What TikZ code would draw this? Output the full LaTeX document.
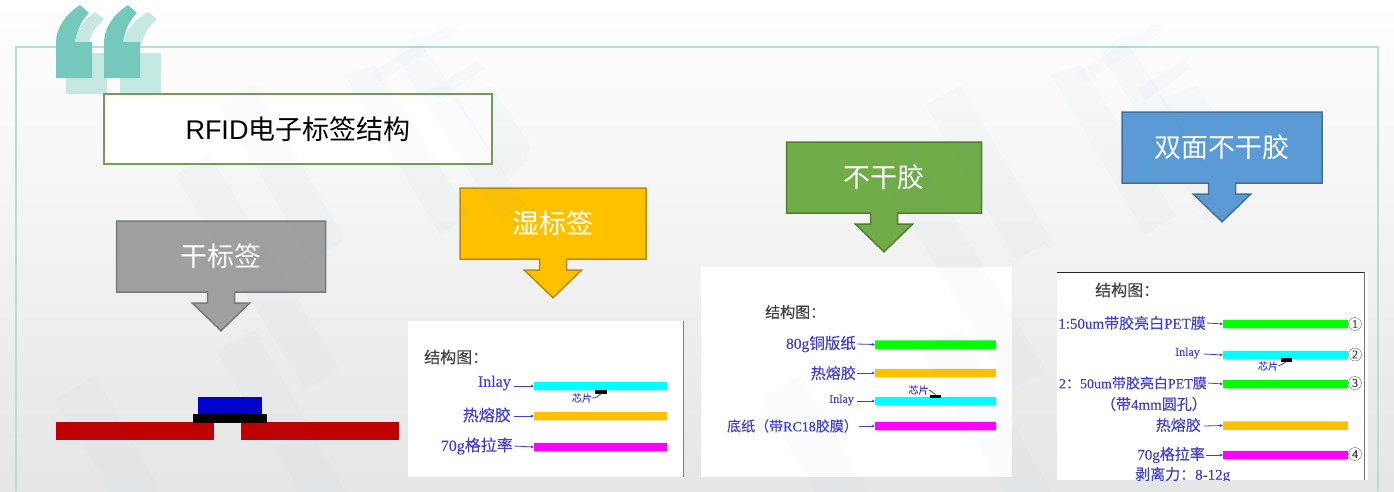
\documentclass[tikz,border=0pt]{standalone}
\usepackage{fontspec}
\setmainfont[FakeBold=0.3]{Liberation Serif}
\newfontfamily\cjk{Noto Sans CJK SC}
\newfontfamily\cjkb[FakeBold=0.3]{Noto Sans CJK SC}
\newfontfamily\cjksans{Liberation Sans}
\usetikzlibrary{arrows.meta,shapes.arrows}
\newcommand{\px}[1]{\fontsize{#1}{#1}\selectfont}
\definecolor{quotedark}{HTML}{74C9BC}
\definecolor{quotelight}{HTML}{C6E8E3}
\definecolor{framecol}{HTML}{B0E0DA}
\definecolor{titleline}{HTML}{70A050}
\definecolor{labelblue}{HTML}{3F3FD0}
\definecolor{barcyan}{HTML}{00FFFF}
\definecolor{barmagenta}{HTML}{FF00FF}
\definecolor{bargreen}{HTML}{00FF00}
\definecolor{barorange}{HTML}{FFC000}
\definecolor{darkred}{HTML}{C00000}
\definecolor{darkblue}{HTML}{0000CC}
\definecolor{graytag}{HTML}{A0A0A0}
\definecolor{grayline}{HTML}{767A7C}
\definecolor{goldline}{HTML}{BC8C00}
\definecolor{greentag}{HTML}{70AD47}
\definecolor{greenline}{HTML}{507E32}
\definecolor{bluetag}{HTML}{5B9BD5}
\definecolor{blueline}{HTML}{41719C}
\definecolor{wblue}{HTML}{5B8DC0}
\tikzset{
  tagbox/.style={arrow box, arrow box arrows={south:38pt}, arrow box shaft width=27pt,
    arrow box head extend=15pt, arrow box head indent=0pt, arrow box tip angle=92,
    minimum height=71pt, inner sep=0pt, line width=1.5pt, text=white, font=\cjk\px{27}},
  panel/.style={fill=white, draw=none},
  bar/.style={inner sep=0pt, minimum height=8.5pt, rounded corners=0.5pt},
  lab/.style={anchor=east, inner sep=1pt, text=labelblue},
  head/.style={anchor=west, inner sep=0pt, text=black!75, font=\cjkb\px{16}},
  tiny/.style={inner sep=0pt, text=labelblue, font=\cjkb\px{10}},
  chip/.style={fill=black, inner sep=0pt},
  num/.style={draw=black!60, circle, inner sep=0pt, minimum size=13pt, text=black!75, font=\px{12}},
  feed/.style={draw=labelblue, line width=0.8pt, -{Stealth[length=3pt,width=3pt]}},
  wmark/.style={fill=wblue, opacity=0.03}
}
\begin{document}
\begin{tikzpicture}[x=1pt,y=-1pt]
\useasboundingbox (0,0) rectangle (1394,491);
\fill[top color=white, bottom color=black!10] (0,0) rectangle (1394,491);
% frame and quote mark
\draw[framecol, line width=2pt] (16,491) -- (16,47) -- (1378,47) -- (1378,491);
\fill[quotelight] (66,53) rectangle (107,94);
\fill[quotelight] (120,53) rectangle (161,94);
\fill[quotelight] (75,42) .. controls (77,30) and (84,19) .. (95,12) -- (104,19) .. controls (96,26) and (91,34) .. (88,45) -- cycle;
\fill[quotelight] (123,42) .. controls (126,30) and (135,19) .. (148,12) -- (157,19) .. controls (149,26) and (144,34) .. (141,45) -- cycle;
\fill[quotedark] (56,78) -- (56,42) .. controls (56,28) and (66,14) .. (80,5) -- (89,13) .. controls (82,20) and (77,30) .. (75,42) -- (92,42) -- (92,78) -- cycle;
\fill[quotedark] (104,78) -- (104,42) .. controls (104,28) and (114,14) .. (128,5) -- (137,13) .. controls (130,20) and (125,30) .. (123,42) -- (140,42) -- (140,78) -- cycle;
% title
\node[draw=titleline, line width=1.5pt, fill=white, minimum width=388pt, minimum height=70pt, inner sep=0pt, font=\px{27}] (title) at (298,129) {\cjksans RFID\cjk 电子标签结构};
% tags
\node[tagbox, draw=grayline, fill=graytag, minimum width=209pt] (dry) at (221,256.5) {干标签};
\node[tagbox, draw=goldline, fill=barorange, minimum width=186pt] (wet) at (553,223.5) {湿标签};
\node[tagbox, draw=greenline, fill=greentag, minimum width=195pt] (nondry) at (884,177.5) {不干胶};
\node[tagbox, draw=blueline, fill=bluetag, minimum width=200pt] (double) at (1222,147.5) {双面不干胶};
% dry tag cross section
\node[fill=darkred, minimum width=158pt, minimum height=18pt, inner sep=0pt] (antl) at (135,431) {};
\node[fill=darkred, minimum width=158pt, minimum height=18pt, inner sep=0pt] (antr) at (320,431) {};
\node[fill=black, minimum width=74pt, minimum height=9pt, inner sep=0pt] (die) at (230,418.5) {};
\node[fill=darkblue, minimum width=64pt, minimum height=17pt, inner sep=0pt] (cap) at (230,405.5) {};
% wet tag panel
\fill[panel] (408,321) rectangle (683,477);
\draw[black!50] (683,321) -- (683,477);
\node[head] (wethead) at (424,357) {结构图：};
\node[bar, fill=barcyan, minimum width=133pt] (wetinlay) at (600.5,386) {};
\node[bar, fill=barorange, minimum width=133pt] (wetglue) at (600.5,416) {};
\node[bar, fill=barmagenta, minimum width=133pt] (wetpaper) at (600.5,447) {};
\node[chip, minimum width=12pt, minimum height=4pt] (wetchip) at (601,391.5) {};
\node[tiny] (wetchiplab) at (582,398) {芯片};
\node[lab, font=\px{16}] (wetl1) at (512,383) {Inlay};
\node[lab, font=\cjkb\px{16}] (wetl2) at (512,415) {热熔胶};
\node[lab, font=\px{16}] (wetl3) at (514,446) {70g{\cjkb 格拉率}};
\draw[feed] (wetl1.east) ++(2,3) -- (wetinlay.west);
\draw[feed] (wetl2.east) ++(2,1) -- (wetglue.west);
\draw[feed] (wetl3.east) -- (wetpaper.west);
\draw[labelblue, line width=0.8pt] (wetchiplab.east) .. controls (597,398) and (598,396) .. (wetchip.south);
% nondry tag panel
\fill[panel] (701,267) rectangle (1012,477);
\node[head, font=\cjkb\px{15}] (ndhead) at (765,312) {结构图：};
\node[bar, fill=bargreen, minimum width=121pt] (ndface) at (935.5,344.5) {};
\node[bar, fill=barorange, minimum width=121pt] (ndglue) at (935.5,373) {};
\node[bar, fill=barcyan, minimum width=121pt] (ndinlay) at (935.5,401) {};
\node[bar, fill=barmagenta, minimum width=121pt] (ndliner) at (935.5,426) {};
\node[chip, minimum width=11pt, minimum height=3.5pt] (ndchip) at (935.5,396.5) {};
\node[tiny] (ndchiplab) at (918.5,390) {芯片};
\node[lab, font=\px{15.5}] (ndl1) at (857,344) {80g{\cjkb 铜版纸}};
\node[lab, font=\cjkb\px{15}] (ndl2) at (857,373) {热熔胶};
\node[lab, font=\px{12}] (ndl3) at (855,400) {Inlay};
\node[lab, font=\px{14}] (ndl4) at (859,426) {{\cjkb 底纸（带}RC18{\cjkb 胶膜）}};
\draw[feed] (ndl1.east) -- (ndface.west);
\draw[feed] (ndl2.east) -- (ndglue.west);
\draw[feed] (ndl3.east) ++(2,1) -- (ndinlay.west);
\draw[feed] (ndl4.east) -- (ndliner.west);
\draw[labelblue, line width=0.8pt] (ndchiplab.east) .. controls (930,390) and (932,392) .. (ndchip.north);
% double sided tag panel
\fill[panel] (1057,272) rectangle (1368,480);
\draw[black!85] (1057,272) -- (1364,272);
\draw[black!55, line width=1pt] (1364,272) -- (1364,480);
\node[head] (dshead) at (1095,290) {结构图：};
\node[bar, fill=bargreen, minimum width=125pt] (dsfilma) at (1285.5,324) {};
\node[bar, fill=barcyan, minimum width=125pt] (dsinlay) at (1285.5,355) {};
\node[bar, fill=bargreen, minimum width=125pt] (dsfilmb) at (1285.5,384) {};
\node[bar, fill=barorange, minimum width=125pt] (dsglue) at (1285.5,425.5) {};
\node[bar, fill=barmagenta, minimum width=125pt] (dspaper) at (1285.5,455) {};
\node[chip, minimum width=11pt, minimum height=3.5pt] (dschip) at (1286,360) {};
\node[tiny] (dschiplab) at (1268,366) {芯片};
\node[lab, font=\px{15}] (dsl1) at (1207,323) {1:50um{\cjkb 带胶亮白}PET{\cjkb 膜}};
\node[lab, font=\px{12}] (dsl2) at (1201,353) {Inlay};
\node[lab, font=\px{14}] (dsl3) at (1208,383) {2{\cjkb ：}50um{\cjkb 带胶亮白}PET{\cjkb 膜}};
\node[lab, font=\px{15}] (dsl3b) at (1208,404) {{\cjkb （带}4mm{\cjkb 圆孔）}};
\node[lab, font=\cjkb\px{15}] (dsl4) at (1202,425) {热熔胶};
\node[lab, font=\px{15}] (dsl5) at (1206,455) {70g{\cjkb 格拉率}};
\begin{scope}
\clip (1057,460) rectangle (1364,480);
\node[lab, anchor=west, font=\px{15}] (dsl6) at (1134,475) {{\cjkb 剥离力：}8-12g};
\end{scope}
\draw[feed] (dsl1.east) -- (dsfilma.west);
\draw[feed] (dsl2.east) ++(3,1) -- (dsinlay.west);
\draw[feed] (dsl3.east) -- (dsfilmb.west);
\draw[feed] (dsl4.east) ++(2,1) -- (dsglue.west);
\draw[feed] (dsl5.east) -- (dspaper.west);
\draw[labelblue, line width=0.8pt] (dschiplab.east) .. controls (1280,366) and (1282,364) .. (dschip.south);
\node[num] (dsn1) at (1355,324) {1};
\node[num] (dsn2) at (1355,354.5) {2};
\node[num] (dsn3) at (1355,383) {3};
\node[num] (dsn4) at (1355,454) {4};
% watermark
\foreach \dx in {0,706} {
\begin{scope}[shift={(\dx,0)}]
\fill[wmark] (452,23) -- (458,31) -- (380,82) -- (372,72) -- cycle;
\fill[wmark] (415,36) -- (440,70) -- (525,205) -- (500,220) -- (395,55) -- cycle;
\fill[wmark] (345,75) -- (375,65) -- (470,215) -- (440,235) -- cycle;
\fill[wmark] (478,60) -- (485,68) -- (440,100) -- (430,90) -- cycle;
\fill[wmark] (490,85) -- (530,145) -- (525,165) -- (505,175) -- (455,100) -- cycle;
\fill[wmark] (220,105) -- (255,85) -- (345,240) -- (310,260) -- cycle;
\fill[wmark] (175,175) -- (210,155) -- (340,370) -- (305,390) -- cycle;
\fill[wmark] (55,400) -- (95,375) -- (160,491) -- (110,491) -- cycle;
\fill[wmark] (215,350) -- (255,330) -- (345,491) -- (300,491) -- cycle;
\end{scope}
}
\end{tikzpicture}
\end{document}
